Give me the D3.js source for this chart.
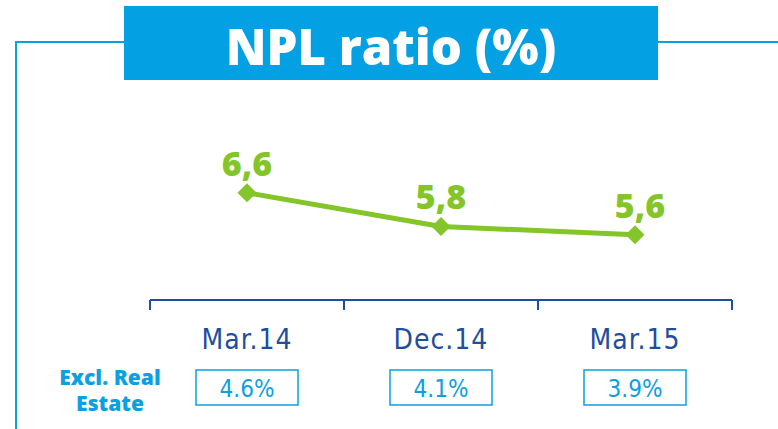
<!DOCTYPE html>
<html>
<head>
<meta charset="utf-8">
<script src="https://cdn.jsdelivr.net/npm/d3@7"></script>
<style>
  body { margin: 0; background: #fff; }
  svg { display: block; }
</style>
</head>
<body>
<script>
'use strict';

const periods = ['Mar.14', 'Dec.14', 'Mar.15']
const nplRatio = [6.6, 5.8, 5.6]
const nplLabels = ['6,6', '5,8', '5,6']
const exclRealEstate = ['4.6%', '4.1%', '3.9%']

const m = { width: 778, height: 429 }
const lightBlue = '#0aa0e2'
const darkBlue = '#1f4e9e'
const green = '#84c52a'

const svg = d3.select('body')
  .append('svg')
  .attr('width', m.width)
  .attr('height', m.height)

// frame lines
svg.append('path')
  .attr('d', 'M16,429 V42 H124 M658,42 H778')
  .attr('fill', 'none')
  .attr('stroke', lightBlue)
  .attr('stroke-width', 2)

// title box
svg.append('rect')
  .attr('x', 124).attr('y', 6)
  .attr('width', 534).attr('height', 74)
  .attr('fill', '#03a0e3')

svg.append('text')
  .attr('x', 391).attr('y', 65)
  .attr('text-anchor', 'middle')
  .style('font-family', 'Open Sans, sans-serif')
  .style('font-weight', 800)
  .style('font-size', '49px')
  .style('fill', '#fff')
  .text('NPL ratio (%)')

const x = d3.scaleBand()
  .domain(periods)
  .range([150, 732])

const y = d3.scaleLinear()
  .domain([5, 7])
  .range([260, 176])

// axis
const xAxis = d3.axisBottom(x).tickSize(0).tickFormat('')
const axisG = svg.append('g')
  .attr('transform', 'translate(0,300)')
  .call(xAxis)
axisG.select('.domain').remove()
axisG.append('line')
  .attr('x1', 150).attr('x2', 732)
  .attr('stroke', darkBlue).attr('stroke-width', 2)
const edges = [150].concat(periods.map((p) => x(p) + x.bandwidth()))
axisG.selectAll('.sep')
  .data(edges)
  .enter().append('line')
  .attr('class', 'sep')
  .attr('x1', (d) => d).attr('x2', (d) => d)
  .attr('y1', 0).attr('y2', 10)
  .attr('stroke', darkBlue).attr('stroke-width', 2)

svg.selectAll('.cat')
  .data(periods)
  .enter().append('text')
  .attr('class', 'cat')
  .attr('x', (d) => x(d) + x.bandwidth() / 2)
  .attr('y', 349)
  .attr('text-anchor', 'middle')
  .style('font-family', 'DejaVu Sans Condensed, sans-serif')
  .style('font-size', '28px')
  .style('letter-spacing', '1px')
  .style('fill', darkBlue)
  .text((d) => d)

// line
const pts = periods.map((p, i) => ({ p: p, v: nplRatio[i], label: nplLabels[i] }))
const cx = (d) => x(d.p) + x.bandwidth() / 2

svg.append('path')
  .datum(pts)
  .attr('d', d3.line().x(cx).y((d) => y(d.v)))
  .attr('fill', 'none')
  .attr('stroke', green)
  .attr('stroke-width', 5)

svg.selectAll('.dot')
  .data(pts)
  .enter().append('path')
  .attr('class', 'dot')
  .attr('d', d3.symbol().type(d3.symbolDiamond2).size(230))
  .attr('transform', (d) => 'translate(' + cx(d) + ',' + y(d.v) + ')')
  .attr('fill', green)

svg.selectAll('.val')
  .data(pts)
  .enter().append('text')
  .attr('class', 'val')
  .attr('x', (d, i) => cx(d) + (i === 2 ? 5 : 0))
  .attr('y', (d) => y(d.v) - 17)
  .attr('text-anchor', 'middle')
  .style('font-family', 'Open Sans, sans-serif')
  .style('font-weight', 800)
  .style('font-size', '34px')
  .style('fill', green)
  .text((d) => d.label)

// excl. real estate row
const rowLabel = svg.append('text')
  .attr('text-anchor', 'middle')
  .style('font-family', 'Open Sans, sans-serif')
  .style('font-weight', 800)
  .style('font-size', '21px')
  .style('fill', lightBlue)
rowLabel.append('tspan').attr('x', 110).attr('y', 385).text('Excl. Real')
rowLabel.append('tspan').attr('x', 110).attr('y', 411).text('Estate')

svg.selectAll('.box')
  .data(exclRealEstate)
  .enter().append('rect')
  .attr('class', 'box')
  .attr('x', (d, i) => x(periods[i]) + x.bandwidth() / 2 - 51)
  .attr('y', 370)
  .attr('width', 102)
  .attr('height', 35)
  .attr('fill', 'none')
  .attr('stroke', lightBlue)
  .attr('stroke-width', 1.5)

svg.selectAll('.boxval')
  .data(exclRealEstate)
  .enter().append('text')
  .attr('class', 'boxval')
  .attr('x', (d, i) => x(periods[i]) + x.bandwidth() / 2)
  .attr('y', 397)
  .attr('text-anchor', 'middle')
  .style('font-family', 'DejaVu Sans Condensed, sans-serif')
  .style('font-size', '24px')
  .style('fill', lightBlue)
  .text((d) => d)
</script>
</body>
</html>
